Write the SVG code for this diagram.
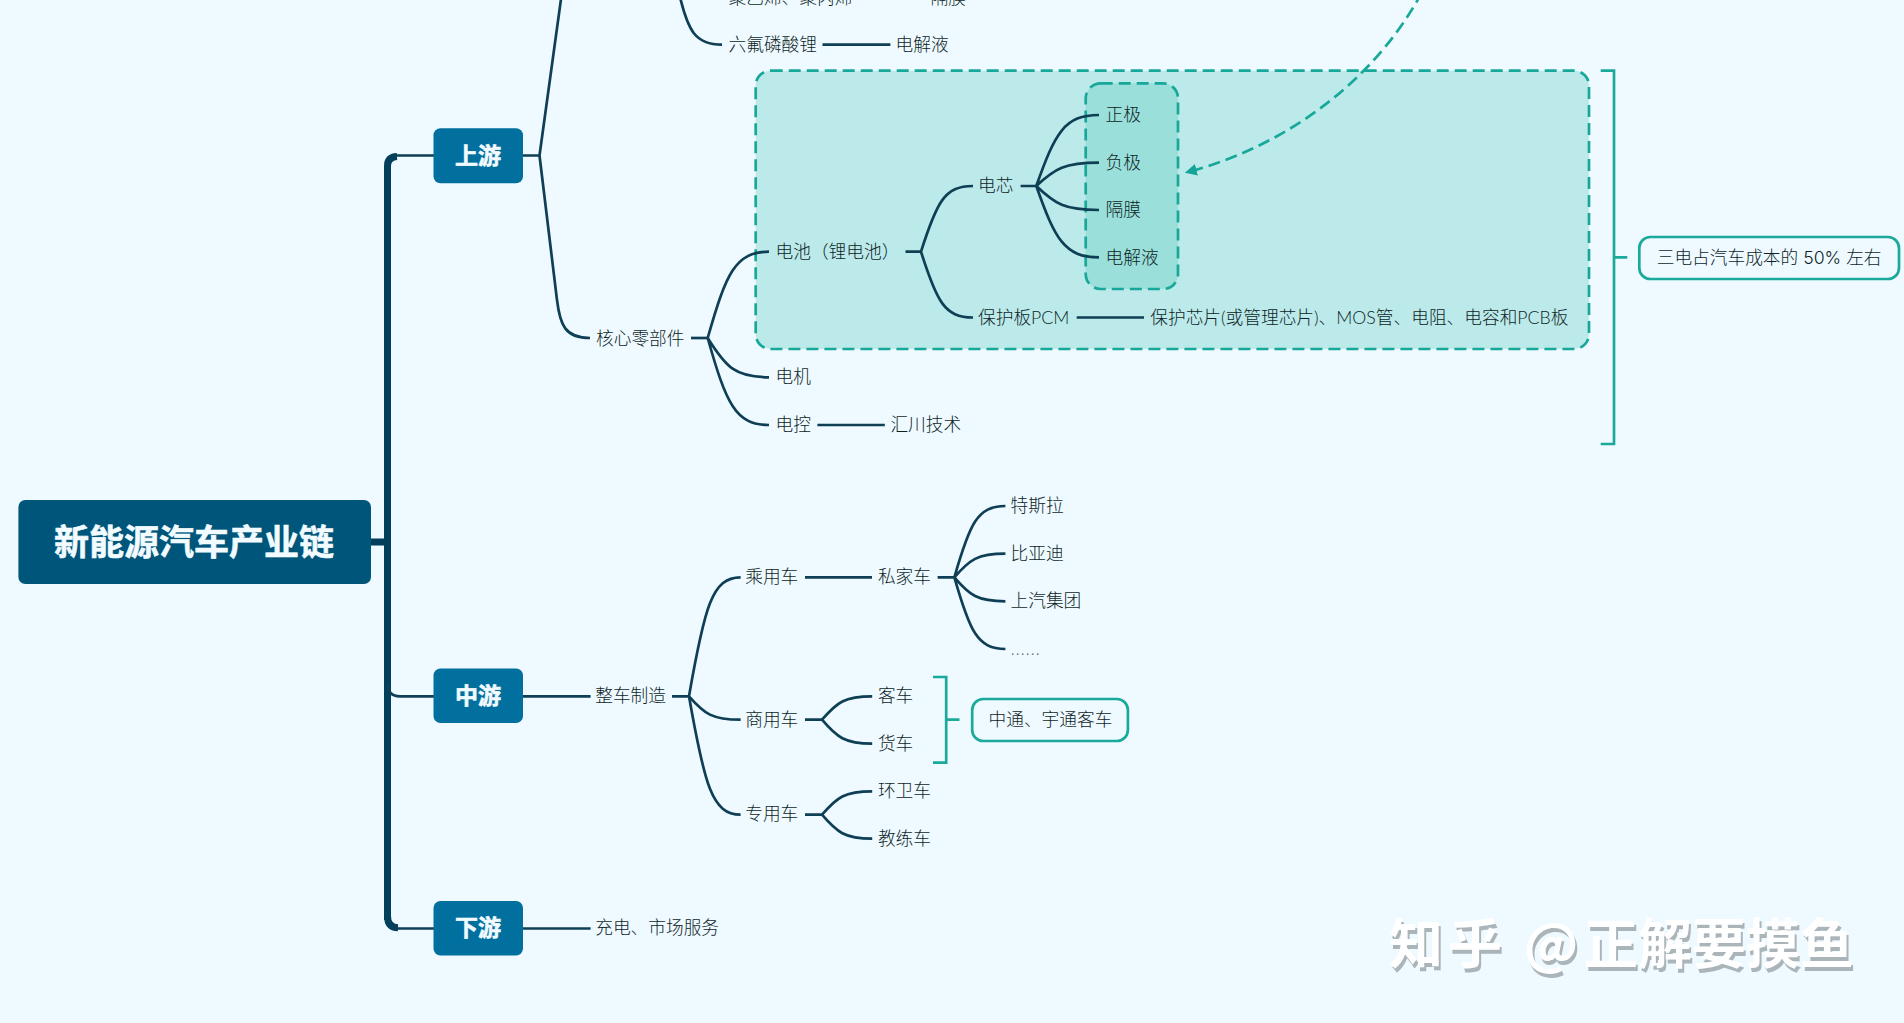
<svg xmlns="http://www.w3.org/2000/svg" width="1904" height="1023" viewBox="0 0 1904 1023">
<style>
text{font-family:"Lato","Noto Sans CJK SC",sans-serif}
.t{font-size:17.7px;fill:#0e1f27;font-weight:300}
.w{font-weight:700;fill:#f2fbff;stroke:#f2fbff;stroke-width:.6;text-anchor:middle}
.l{font-size:23px}
.r{fill:#02709e}
.c{fill:none;stroke:#0f3f55;stroke-width:2.7}
.k{fill:none;stroke:#023f5a;stroke-width:7}
.b{fill:none;stroke:#1aa99b;stroke-width:2.7}
.n{fill:#eefaff;stroke:#1aa99b;stroke-width:2.7}
.d{stroke:#17a89a;stroke-width:2.7;stroke-dasharray:12 6}
.wm{font-family:"Noto Sans CJK SC",sans-serif;font-size:54px;font-weight:700}
</style>
<defs>
<marker id="ah" viewBox="0 0 10 10" refX="9" refY="5" markerWidth="12" markerHeight="12" markerUnits="userSpaceOnUse" orient="auto"><path d="M0,0L10,5L0,10Z" fill="#14a598"/></marker>
</defs>
<rect width="1904" height="1023" fill="#eefaff"/>
<g id="boundaries">
<rect id="boundary-battery" class="d" x="755.7" y="70.7" width="833.3" height="278.3" rx="15" fill="#bceaea"/>
<rect id="boundary-cell" class="d" x="1085.7" y="83.3" width="92.3" height="205.7" rx="15" fill="#9adfda"/>
</g>
<g id="connectors">
<path class="k" d="M371,542H387.5"/>
<path class="k" d="M387.5,920V166Q387.5,157 397,156.5"/>
<path class="k" d="M387.5,916Q387.5,927.5 398,927.8"/>
<path class="c" d="M395,155.5H434M395,928.5H434M387.5,684Q388,696.3 400,696.3H434"/>
<path class="c" d="M522,155.5H539.5M539.5,155.5L565,-30M539.5,155.5L557,300C560,325 565,338 590,338"/>
<path class="c" d="M680,-3C688,30 695,44.7 722,44.7M822.5,44.7H890.4"/>
<path class="c" d="M691,338H707.7"/>
<path class="c" d="M707.7,338C726.1,273.3 735.3,251.7 769,251.7M707.7,338C726.1,367.5 735.3,377.3 769,377.3M707.7,338C726.1,403.3 735.3,425 769,425"/>
<path class="c" d="M817.4,425H884.8"/>
<path class="c" d="M905.5,251.7H921M921,251.7C936.6,202.4 944.4,186 973,186M921,251.7C936.6,301 944.4,317.5 973,317.5"/>
<path class="c" d="M1020.6,186H1036.3M1036.3,186C1055.1,132.8 1064.5,115 1099,115M1036.3,186C1055.1,168.5 1064.5,162.7 1099,162.7M1036.3,186C1055.1,204 1064.5,210 1099,210M1036.3,186C1055.1,239.5 1064.5,257.3 1099,257.3"/>
<path class="c" d="M1076.7,317.5H1144"/>
<path class="c" d="M522,696.3H590.6M672,696.3H689M689,696.3C704.5,607 712.2,577.3 740.6,577.3M689,696.3C704.5,713.9 712.2,719.7 740.6,719.7M689,696.3C704.5,785.1 712.2,814.7 740.6,814.7"/>
<path class="c" d="M805,577.3H872M937.6,577.3H954.4M954.4,577.3C969.7,523.8 977.35,506 1005.4,506M954.4,577.3C969.7,559.6 977.35,553.7 1005.4,553.7M954.4,577.3C969.7,595.3 977.35,601.3 1005.4,601.3M954.4,577.3C969.7,631.1 977.35,649 1005.4,649"/>
<path class="c" d="M805,719.7H822M822,719.7C837,702.2 844.6,696.3 872.2,696.3M822,719.7C837,737.3 844.6,743.7 872.2,743.7"/>
<path class="c" d="M805,814.7H822M822,814.7C837,797.2 844.6,791.3 872.2,791.3M822,814.7C837,832.2 844.6,838.7 872.2,838.7"/>
<path class="c" d="M522,928.5H590.6"/>
<path class="b" d="M1600.7,70.7H1614V444H1600.7M1614,257.3H1627.3"/>
<path class="b" d="M933,677H946.2V762.7H933M946.2,719.7H959.5"/>
<path class="d" fill="none" marker-end="url(#ah)" d="M1422,-8C1378,75 1292,145 1186,172.5"/>
</g>
<g id="root"><rect x="18.4" y="500" width="352.6" height="84" rx="7" fill="#00567a"/><text class="w" x="194" y="554.5" font-size="35">新能源汽车产业链</text></g>
<g id="upstream"><rect class="r" x="433.5" y="128.3" width="89.5" height="55" rx="7"/><text class="w l" x="478" y="163.7">上游</text></g>
<g id="midstream"><rect class="r" x="433.5" y="668.5" width="89.5" height="54.5" rx="7"/><text class="w l" x="478" y="704">中游</text></g>
<g id="downstream"><rect class="r" x="433.5" y="901" width="89.5" height="54.5" rx="7"/><text class="w l" x="478" y="936">下游</text></g>
<g id="n-pp"><text class="t" x="728.5" y="3.5">聚乙烯、聚丙烯</text></g>
<g id="n-sep-top"><text class="t" x="930.5" y="3.5">隔膜</text></g>
<g id="n-lipf6"><text class="t" x="728.5" y="50.5">六氟磷酸锂</text></g>
<g id="n-electrolyte-top"><text class="t" x="895.5" y="50.5">电解液</text></g>
<g id="n-core"><text class="t" x="596" y="344.5">核心零部件</text></g>
<g id="n-battery"><text class="t" x="775.5" y="257.5">电池（锂电池）</text></g>
<g id="n-motor"><text class="t" x="775.5" y="383">电机</text></g>
<g id="n-control"><text class="t" x="775.5" y="430.5">电控</text></g>
<g id="n-inovance"><text class="t" x="890.4" y="430.5">汇川技术</text></g>
<g id="n-cell"><text class="t" x="978" y="191.7">电芯</text></g>
<g id="n-pcm"><text class="t" x="978" y="323.9">保护板PCM</text></g>
<g id="n-pcm-parts"><text class="t" x="1150.3" y="323.9">保护芯片(或管理芯片)、MOS管、电阻、电容和PCB板</text></g>
<g id="n-cathode"><text class="t" x="1105.5" y="120.8">正极</text></g>
<g id="n-anode"><text class="t" x="1105.5" y="168.5">负极</text></g>
<g id="n-separator"><text class="t" x="1105.5" y="215.8">隔膜</text></g>
<g id="n-electrolyte"><text class="t" x="1105.5" y="263.5">电解液</text></g>
<g id="n-note-cost"><rect class="n" x="1639.3" y="237" width="259.7" height="42" rx="11"/><text class="t" x="1656.7" y="264" style="font-family:Inter,'Noto Sans CJK SC',sans-serif">三电占汽车成本的 50% 左右</text></g>
<g id="n-vehicle"><text class="t" x="595.2" y="702">整车制造</text></g>
<g id="n-passenger"><text class="t" x="745.2" y="583">乘用车</text></g>
<g id="n-private"><text class="t" x="877.9" y="583">私家车</text></g>
<g id="n-tesla"><text class="t" x="1010.5" y="512.3">特斯拉</text></g>
<g id="n-byd"><text class="t" x="1010.5" y="559.5">比亚迪</text></g>
<g id="n-saic"><text class="t" x="1010.5" y="607.3">上汽集团</text></g>
<g id="n-more"><text class="t" x="1010.5" y="654.5" letter-spacing=".7" style="font-family:'Noto Sans',sans-serif" fill-opacity=".7">......</text></g>
<g id="n-commercial"><text class="t" x="745.2" y="725.5">商用车</text></g>
<g id="n-bus"><text class="t" x="877.9" y="702">客车</text></g>
<g id="n-truck"><text class="t" x="877.9" y="749.5">货车</text></g>
<g id="n-note-bus"><rect class="n" x="972.2" y="699" width="155.7" height="42" rx="11"/><text class="t" x="988.5" y="725.5">中通、宇通客车</text></g>
<g id="n-special"><text class="t" x="745.2" y="820.3">专用车</text></g>
<g id="n-sanitation"><text class="t" x="877.9" y="797">环卫车</text></g>
<g id="n-training"><text class="t" x="877.9" y="844.5">教练车</text></g>
<g id="n-charging"><text class="t" x="595.2" y="934">充电、市场服务</text></g>
<g id="watermark">
<text class="wm" fill="#aab4b9" transform="translate(2,4)"><tspan x="1389" y="964" letter-spacing="5">知乎</tspan><tspan x="1524" y="964">@</tspan><tspan x="1584" y="964">正解要摸鱼</tspan></text>
<text class="wm" fill="#ffffff"><tspan x="1389" y="964" letter-spacing="5">知乎</tspan><tspan x="1524" y="964">@</tspan><tspan x="1584" y="964">正解要摸鱼</tspan></text>
</g>
</svg>
